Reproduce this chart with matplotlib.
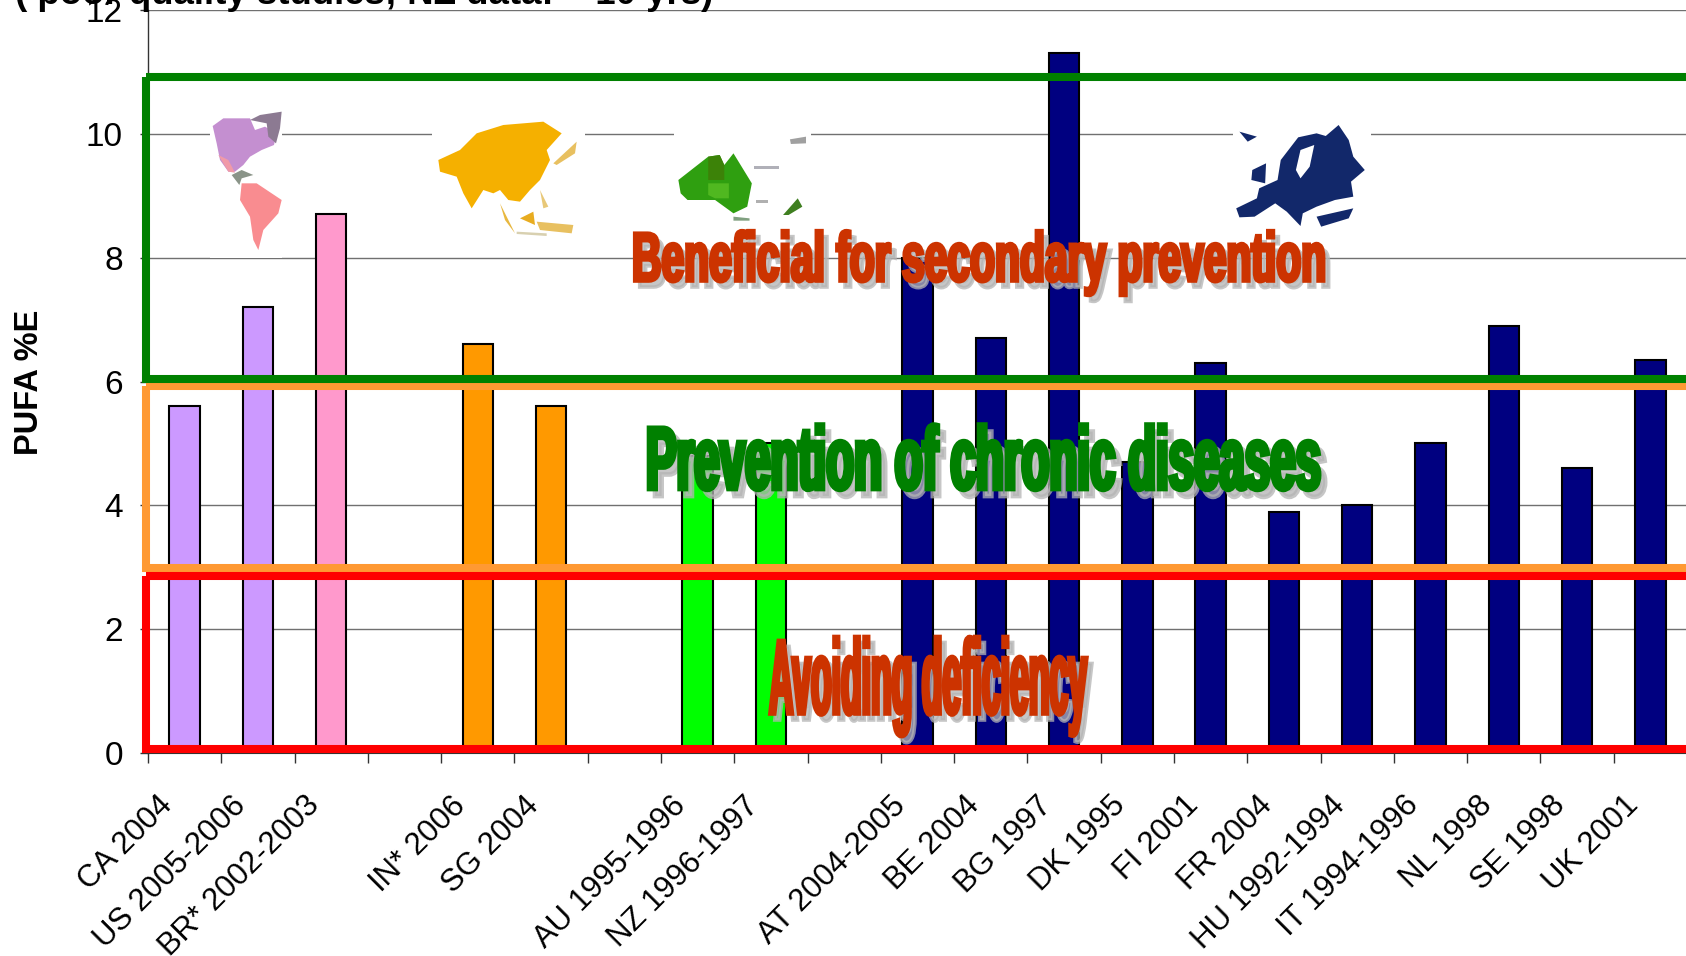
import matplotlib
matplotlib.use("Agg")
import matplotlib.pyplot as plt
from matplotlib.patches import Polygon, Rectangle
from matplotlib.patheffects import AbstractPathEffect
from matplotlib.transforms import Affine2D

W, H = 1686, 956
plt.rcParams['font.family'] = ['Liberation Sans', 'DejaVu Sans']

# dane
categories = ['CA 2004', 'US 2005-2006', 'BR* 2002-2003', '', 'IN* 2006', 'SG 2004', '',
              'AU 1995-1996', 'NZ 1996-1997', '', 'AT 2004-2005', 'BE 2004', 'BG 1997',
              'DK 1995', 'FI 2001', 'FR 2004', 'HU 1992-1994', 'IT 1994-1996', 'NL 1998',
              'SE 1998', 'UK 2001']
values = [5.6, 7.2, 8.7, 0, 6.6, 5.6, 0, 4.8, 5.0, 0, 8.0, 6.7, 11.3, 4.7, 6.3, 3.9, 4.0,
          5.0, 6.9, 4.6, 6.35]
colors = ['#CC99FF', '#CC99FF', '#FF99CC', 'none', '#FF9900', '#FF9900', 'none', '#00FF00',
          '#00FF00', 'none'] + ['#000080'] * 11
y_ticks = [0, 2, 4, 6, 8, 10, 12]
title = '( poor quality studies; NZ data: ~ 10 yrs)'
ylabel = 'PUFA %E'


class Stretched(AbstractPathEffect):
    # rozciaga tekst jak WordArt, zostaje zwyklym obiektem Text
    def __init__(self, sx, sy, color, dx=0, dy=0, stroke=0.0, alpha=1.0):
        super().__init__()
        self.sx, self.sy, self.color = sx, sy, color
        self.dx, self.dy, self.stroke, self.alpha = dx, dy, stroke, alpha

    def draw_path(self, renderer, gc, tpath, affine, rgbFace=None):
        tr = Affine2D().scale(self.sx, self.sy) + affine + Affine2D().translate(self.dx, self.dy)
        gc0 = renderer.new_gc()
        gc0.copy_properties(gc)
        gc0.set_alpha(self.alpha)
        gc0.set_foreground(self.color)
        gc0.set_linewidth(self.stroke)
        gc0.set_joinstyle('miter')
        rgb = matplotlib.colors.to_rgb(self.color)
        renderer.draw_path(gc0, tpath, tr, rgb)
        gc0.restore()


fig = plt.figure(figsize=(W / 100, H / 100), dpi=100)
ax = fig.add_axes([148 / W, 1 - 753 / H, 1539 / W, 743 / H])

x = [i + 0.5 for i in range(len(categories))]
for xi, v, c in zip(x, values, colors):
    if v > 0:
        ax.bar(xi, v, width=0.415, color=c, edgecolor='black', linewidth=1.5, zorder=3)

ax.set_xlim(0, 21)
ax.set_ylim(0, 12)
ax.set_yticks(y_ticks)
ax.set_xticks(range(21))
ax.set_xticklabels([])
# etykiety siedza lekko na lewo od srodka slupka
ax.set_xticks([i + 0.13 for i in range(len(categories))], minor=True)
ax.set_xticklabels(categories, minor=True, rotation=45, ha='right', va='top',
                   rotation_mode='anchor', fontsize=22.4)
ax.tick_params(axis='x', which='major', length=7, width=1, color='#333333')
ax.tick_params(axis='x', which='minor', length=0, pad=27)
ax.tick_params(axis='y', length=6, width=1, color='#333333', pad=12, labelsize=24)
ax.grid(axis='y', color='#707070', linewidth=1, zorder=0)
ax.set_axisbelow(True)
for s in ['top', 'right']:
    ax.spines[s].set_visible(False)
for s in ['left', 'bottom']:
    ax.spines[s].set_color('#333333')
ax.spines['left'].set_linewidth(1)

fig.text(15 / W, 1 - 4 / H, title, fontsize=26.4, fontweight='bold', ha='left', va='baseline', zorder=1)
fig.text(30 / W, 1 - 382 / H, ylabel, fontsize=23.5, fontweight='bold', rotation=90,
         ha='center', va='center')

# nakladka w pikselach obrazka (ramki, mapki, napisy)
over = fig.add_axes([0, 0, 1, 1], facecolor='none', zorder=5)
over.set_xlim(0, W)
over.set_ylim(H, 0)
over.axis('off')


def zoomed(points, x0, y0, sx=3.0, sy=3.0):
    return [(x0 + a / sx, y0 + b / sy) for a, b in points]


# mapki na bialym tle
map_boxes = [(210, 107, 72, 151), (432, 116, 153, 127), (674, 130, 137, 98), (1233, 121, 138, 112)]
for bx, by, bw, bh in map_boxes:
    ax.add_patch(Rectangle((bx, by), bw, bh, transform=over.transData, facecolor='white',
                           edgecolor='none', zorder=2, clip_on=False))

america = [
    ('#C48FD0', [(38, 78), (70, 55), (150, 55), (165, 90), (195, 80), (230, 100), (222, 135), (185, 150),
                 (150, 170), (130, 195), (105, 215), (85, 215), (60, 180), (50, 130)]),
    ('#8C7A92', [(150, 60), (180, 45), (245, 35), (240, 85), (228, 130), (205, 110), (200, 70)]),
    ('#F09AA8', [(55, 165), (85, 180), (105, 218), (85, 215)]),
    ('#8A9488', [(95, 225), (125, 210), (160, 225), (125, 235), (118, 255)]),
    ('#F98C90', [(125, 250), (170, 250), (245, 300), (235, 340), (190, 390), (175, 450), (160, 420),
                 (150, 350), (120, 300)]),
]
asia = [
    ('#F5B000', [(715, 180), (780, 150), (830, 100), (910, 75), (1030, 65), (1085, 100), (1040, 150),
                 (1050, 180), (1020, 240), (990, 270), (960, 305), (925, 300), (900, 270), (880, 280),
                 (850, 270), (815, 325), (790, 280), (770, 230), (720, 215)]),
    ('#E8C060', [(1060, 190), (1130, 125), (1125, 160), (1070, 195)]),
    ('#E8B840', [(900, 310), (945, 400), (915, 360)]),
    ('#E8AC20', [(960, 355), (1000, 335), (1005, 375)]),
    ('#E8C878', [(1020, 270), (1045, 320), (1030, 325)]),
    ('#E8C060', [(1010, 365), (1120, 375), (1115, 400), (1020, 390)]),
    ('#D8D0B0', [(950, 395), (1040, 400), (1040, 408), (950, 402)]),
]
australia = [
    ('#2F9F10', [(40, 240), (105, 170), (130, 165), (140, 195), (160, 160), (200, 250), (190, 320),
                 (160, 340), (120, 300), (60, 300), (45, 280)]),
    ('#3C8208', [(105, 170), (130, 165), (140, 195), (140, 240), (105, 240)]),
    ('#50B820', [(105, 250), (150, 250), (150, 295), (120, 295), (105, 285)]),
    ('#3F7F20', [(268, 345), (300, 295), (310, 320), (280, 345)]),
    ('#A0A0A0', [(283, 118), (318, 110), (318, 130), (285, 132)]),
    ('#B0B0B8', [(205, 197), (260, 197), (260, 206), (205, 206)]),
    ('#B0B0B0', [(210, 300), (235, 300), (235, 310), (210, 310)]),
    ('#80A080', [(160, 350), (195, 355), (195, 362), (160, 362)]),
]
europe = [
    ('#12286A', [(1255, 325), (1300, 295), (1305, 265), (1345, 240), (1352, 180), (1390, 112), (1430, 100),
                 (1450, 108), (1478, 75), (1500, 120), (1510, 170), (1535, 210), (1505, 245), (1510, 290),
                 (1470, 300), (1430, 320), (1400, 340), (1395, 378), (1365, 335), (1340, 310), (1295, 350),
                 (1262, 352)]),
    ('#FFFFFF', [(1395, 150), (1425, 135), (1415, 200), (1395, 235), (1385, 210)]),
    ('#12286A', [(1262, 95), (1300, 110), (1280, 125)]),
    ('#12286A', [(1290, 210), (1320, 190), (1318, 250), (1288, 240)]),
    ('#12286A', [(1430, 350), (1510, 325), (1500, 355), (1440, 380)]),
]
for col, pts in america + asia:
    over.add_patch(Polygon(zoomed(pts, 200, 100), closed=True, facecolor=col, edgecolor='none', zorder=2))
for col, pts in australia + europe:
    over.add_patch(Polygon(zoomed(pts, 660, 100, sx=2.178), closed=True, facecolor=col, edgecolor='none', zorder=2))

# ramki
frames = [('#FF9933', 146, 386, 567.5), ('#008000', 146, 76.5, 378.5), ('#FF0000', 146, 575.5, 749)]
for col, left, top, bottom in frames:
    over.add_patch(Rectangle((left, top), 1687.5 - left, bottom - top, fill=False, edgecolor=col,
                             linewidth=5.8, joinstyle='miter', zorder=3, clip_on=False))


def wordart(text, x0, x1, baseline, cap, color, shadow, stroke):
    t = over.text(x0, baseline, text, fontsize=20, fontweight='bold', ha='left', va='baseline',
                  color=color, zorder=4)
    w = t.get_window_extent(fig.canvas.get_renderer()).width
    fs = 20 * (x1 - x0) / w
    t.set_fontsize(fs)
    sy = cap / (0.72 * fs * 100 / 72)
    t.set_path_effects([
        Stretched(1, sy, '#B4B4B4', dx=shadow[0], dy=-shadow[1], stroke=stroke, alpha=0.75),
        Stretched(1, sy, color, stroke=stroke),
    ])


wordart('Beneficial for secondary prevention', 632, 1326, 281, 50, '#CC3300', (5, 6), 2.6)
wordart('Prevention of chronic diseases', 646, 1321, 489, 64, '#008000', (6, 7), 3.4)
wordart('Avoiding deficiency', 769, 1087, 714, 77, '#CC3300', (5, 6), 2.6)

fig.savefig('out.png', dpi=100)
